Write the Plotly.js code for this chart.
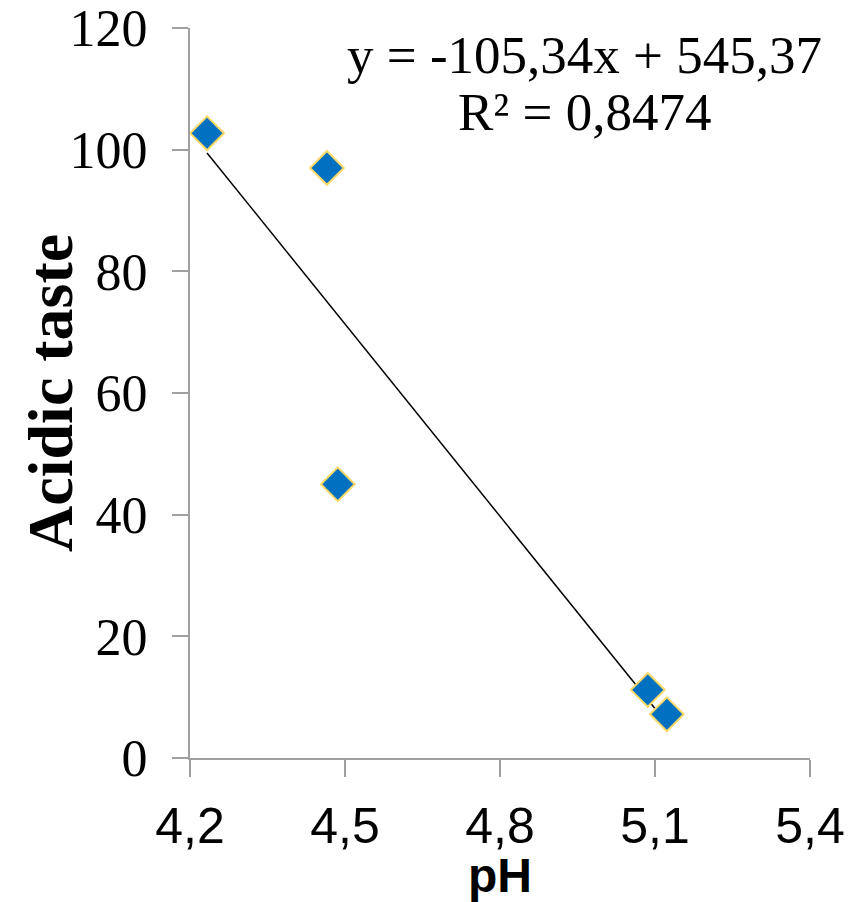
<!DOCTYPE html>
<html>
<head>
<meta charset="utf-8">
<script src="https://cdn.plot.ly/plotly-3.0.1.min.js"></script>
<style>html,body{margin:0;padding:0;background:#fff;}#chart{width:858px;height:902px;}</style>
</head>
<body>
<div id="chart"></div>
<script>
// Data
const phValues = [4.233, 4.465, 4.486, 5.086, 5.123];
const acidicTaste = [102.7, 97, 45, 11.2, 7.2];
// Trendline coefficients shown on the chart
const trendSlope = -105.34;
const trendIntercept = 545.37;
const equationText = "y = -105,34x + 545,37";
const r2Text = "R² = 0,8474";
const yTitleText = "Acidic taste";
const xTicks = [4.2, 4.5, 4.8, 5.1, 5.4];
const xTickLabels = ["4,2", "4,5", "4,8", "5,1", "5,4"];
const yTicks = [0, 20, 40, 60, 80, 100, 120];

const xMin = Math.min(...phValues), xMax = Math.max(...phValues);
const trendX = [xMin, xMax];
const trendY = trendX.map(x => trendSlope * x + trendIntercept);

const traces = [
  {
    x: trendX, y: trendY, type: 'scatter', mode: 'lines',
    line: {color: '#000000', width: 1.5}, hoverinfo: 'skip', showlegend: false
  },
  {
    x: phValues, y: acidicTaste, type: 'scatter', mode: 'markers',
    marker: {symbol: 'diamond', size: 26, color: '#0070C0', line: {color: '#FFD966', width: 2}},
    showlegend: false
  }
];

const layout = {
  width: 858, height: 902,
  margin: {l: 190, r: 48, t: 28, b: 144},
  paper_bgcolor: '#ffffff', plot_bgcolor: '#ffffff',
  separators: ', ',
  showlegend: false,
  xaxis: {
    range: [4.2, 5.4], tickvals: xTicks, ticktext: xTickLabels,
    showgrid: false, zeroline: false, showline: true, linecolor: '#A0A0A0', linewidth: 2,
    ticks: 'outside', ticklen: 17, tickwidth: 2, tickcolor: '#A0A0A0',
    tickfont: {family: 'Liberation Sans, Arial, sans-serif', size: 50, color: '#000'},
    ticklabelstandoff: 6,
    title: {text: '<b>pH</b>', font: {family: 'Liberation Sans, Arial, sans-serif', size: 48, color: '#000'}, standoff: 2}
  },
  yaxis: {
    range: [0, 120], tickvals: yTicks,
    showgrid: false, zeroline: false, showline: true, linecolor: '#A0A0A0', linewidth: 2,
    ticks: 'outside', ticklen: 16, tickwidth: 2, tickcolor: '#A0A0A0',
    tickfont: {family: 'Liberation Serif, Times New Roman, serif', size: 52, color: '#000'},
    ticklabelstandoff: 14
  },
  annotations: [
    {text: '<b>' + yTitleText + '</b>', xref: 'paper', yref: 'paper', x: -0.226, y: 0.5, xanchor: 'center', yanchor: 'middle',
     textangle: -90, showarrow: false,
     font: {family: 'Liberation Serif, Times New Roman, serif', size: 64, color: '#000'}},
    {text: equationText, xref: 'paper', yref: 'paper', x: 0.637, y: 0.963, xanchor: 'center', yanchor: 'middle', showarrow: false,
     font: {family: 'Liberation Serif, Times New Roman, serif', size: 53, color: '#000'}},
    {text: r2Text, xref: 'paper', yref: 'paper', x: 0.637, y: 0.885, xanchor: 'center', yanchor: 'middle', showarrow: false,
     font: {family: 'Liberation Serif, Times New Roman, serif', size: 53, color: '#000'}}
  ]
};

Plotly.newPlot('chart', traces, layout, {displayModeBar: false, staticPlot: true});
</script>
</body>
</html>
